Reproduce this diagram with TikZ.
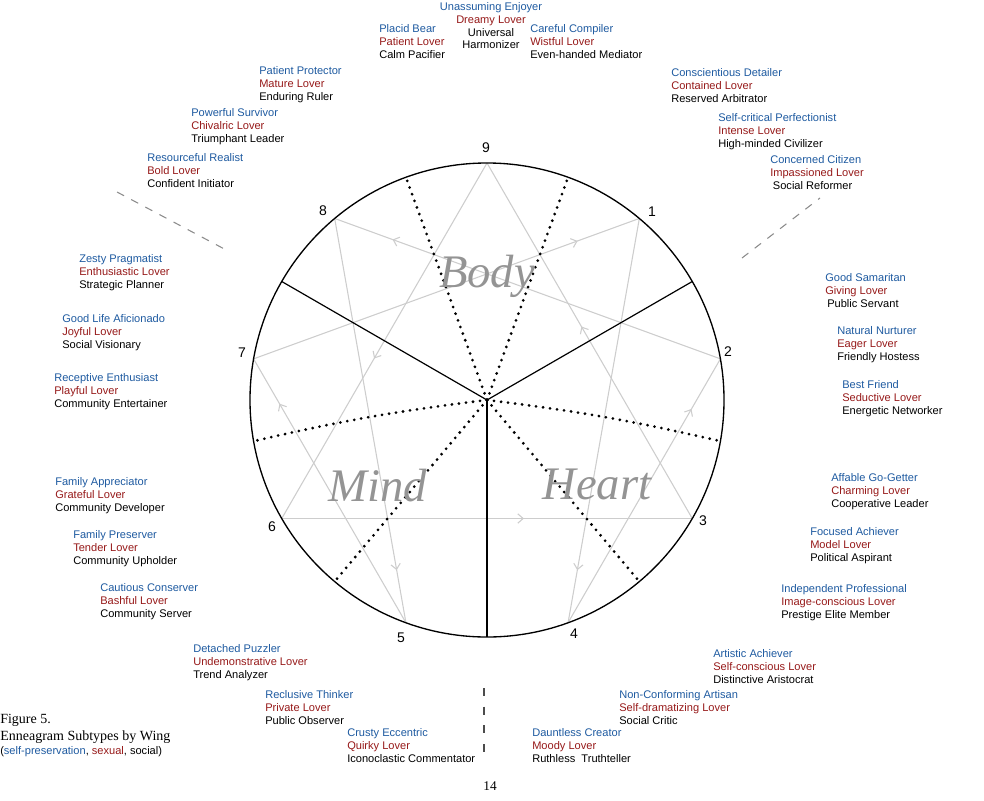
\documentclass[tikz,border=0pt]{standalone}
\usepackage{fontspec}
\setmainfont{Liberation Serif}
\setsansfont{Liberation Sans}
\usetikzlibrary{arrows.meta,decorations.markings,calc}
\definecolor{wblue}{RGB}{30,90,160}
\definecolor{wred}{RGB}{150,25,25}
\definecolor{lgray}{RGB}{205,205,205}
\tikzset{
  lbl/.style={inner sep=0pt,font=\sffamily\fontsize{8.3}{10}\selectfont,anchor=base west},
  num/.style={inner sep=0pt,font=\sffamily\fontsize{10.5}{12}\selectfont},
  big/.style={inner sep=0pt,font=\itshape\fontsize{35}{40}\selectfont,text=black!42},
  star/.style={lgray,line width=0.8pt,postaction={decorate},decoration={markings,mark=at position #1 with {\arrow[lgray,line width=0.8pt]{Straight Barb[length=4pt,width=7pt]}}}},
  dots/.style={line width=2.3pt,line cap=round,dash pattern=on 0pt off 5.3pt},
  sector/.style={line width=0.9pt},
  gdash/.style={black!45,line width=0.8pt,dash pattern=on 6pt off 6pt}
}
\newcommand{\wing}[6]{%
  \node[lbl,text=wblue] (#1a) at (#2,#3+4) {#4};
  \node[lbl,text=wred] (#1b) at (#2,#3+17.3) {#5};
  \node[lbl,text=black] (#1c) at (#2,#3+30.6) {#6};}
\begin{document}
\begin{tikzpicture}[x=0.75pt,y=-0.75pt]
\useasboundingbox (0,0) rectangle (984,800);
\coordinate (c) at (487,400);
\foreach \n/\a in {9/90,1/50,2/10,3/-30,4/-70,5/-110,6/-150,7/170,8/130}
  \coordinate (p\n) at ($(c)+(-\a:237)$);
\foreach \n/\a in {b1/150,b2/30,b3/-90,d1/110,d2/70,d3/-50,d4/-130,d5/190,d6/-10}
  \coordinate (\n) at ($(c)+(-\a:237)$);
% enneagram lines
\draw[star=0.55] (p9) -- (p6);
\draw[star=0.59] (p6) -- (p3);
\draw[star=0.54] (p3) -- (p9);
\draw[star=0.87] (p1) -- (p4);
\draw[star=0.81] (p4) -- (p2);
\draw[star=0.85] (p2) -- (p8);
\draw[star=0.87] (p8) -- (p5);
\draw[star=0.83] (p5) -- (p7);
\draw[star=0.84] (p7) -- (p1);
% sectors
\draw[sector] (c) -- (b1);
\draw[sector] (c) -- (b2);
\draw[sector] (c) -- (b3);
\draw[dots] (c) -- (d1);
\draw[dots] (c) -- (d2);
\draw[dots] (c) -- (d3);
\draw[dots] (c) -- (d4);
\draw[dots] (c) to[bend right=3] (d5);
\draw[dots] (c) to[bend left=3] (d6);
\draw[line width=1pt] (c) circle[radius=237];
% center words
\node[big] (body) at (487,276) {Body};
\node[big] (mind) at (378,486) {Mind};
\node[big] (heart) at (597,484) {Heart};
% numbers
\node[num] (n9) at (486,148) {9};
\node[num] (n1) at (652,212) {1};
\node[num] (n2) at (728,352) {2};
\node[num] (n3) at (703,521) {3};
\node[num] (n4) at (574,634) {4};
\node[num] (n5) at (401,638) {5};
\node[num] (n6) at (272,527) {6};
\node[num] (n7) at (242,353) {7};
\node[num] (n8) at (323,211) {8};
% dashed separators
\coordinate (g1) at (117,192); \coordinate (g2) at (230,252);
\coordinate (g3) at (742,258); \coordinate (g4) at (820,198);
\coordinate (g5) at (484,688); \coordinate (g6) at (484,762);
\draw[gdash] (g1) -- (g2);
\draw[gdash] (g3) -- (g4);
\draw[black!70,line width=1pt,dash pattern=on 6pt off 8pt] (g5) -- (g6);
% top block
\node[lbl,anchor=base,text=wblue] (t1) at (491,10) {Unassuming Enjoyer};
\node[lbl,anchor=base,text=wred] (t2) at (491,23) {Dreamy Lover};
\node[lbl,anchor=base] (t3) at (491,36) {Universal};
\node[lbl,anchor=base] (t4) at (491,48.5) {Harmonizer};
% wing labels
\wing{w1}{379}{28}{Placid Bear}{Patient Lover}{Calm Pacifier}
\wing{w2}{530}{28}{Careful Compiler}{Wistful Lover}{Even-handed Mediator}
\wing{w3}{259}{70}{Patient Protector}{Mature Lover}{Enduring Ruler}
\wing{w4}{671}{72}{Conscientious Detailer}{Contained Lover}{Reserved Arbitrator}
\wing{w5}{191}{112}{Powerful Survivor}{Chivalric Lover}{Triumphant Leader}
\wing{w6}{718}{117}{Self-critical Perfectionist}{Intense Lover}{High-minded Civilizer}
\wing{w7}{147}{157}{Resourceful Realist}{Bold Lover}{Confident Initiator}
\wing{w8}{770}{159}{Concerned Citizen}{Impassioned Lover}{\hspace*{2pt}Social Reformer}
\wing{w9}{79}{258}{Zesty Pragmatist}{Enthusiastic Lover}{Strategic Planner}
\wing{w10}{825}{277}{Good Samaritan}{Giving Lover}{\hspace*{1.5pt}Public Servant}
\wing{w11}{62}{318}{Good Life Aficionado}{Joyful Lover}{Social Visionary}
\wing{w12}{837}{330}{Natural Nurturer}{Eager Lover}{Friendly Hostess}
\wing{w13}{54}{377}{Receptive Enthusiast}{Playful Lover}{Community Entertainer}
\wing{w14}{842}{384}{Best Friend}{Seductive Lover}{Energetic Networker}
\wing{w15}{831}{477}{Affable Go-Getter}{Charming Lover}{Cooperative Leader}
\wing{w16}{55}{481}{Family Appreciator}{Grateful Lover}{Community Developer}
\wing{w17}{810}{531}{Focused Achiever}{Model Lover}{Political Aspirant}
\wing{w18}{73}{534}{Family Preserver}{Tender Lover}{Community Upholder}
\wing{w19}{781}{588}{Independent Professional}{Image-conscious Lover}{Prestige Elite Member}
\wing{w20}{100}{587}{Cautious Conserver}{Bashful Lover}{Community Server}
\wing{w21}{193}{648}{Detached Puzzler}{Undemonstrative Lover}{Trend Analyzer}
\wing{w22}{713}{653}{Artistic Achiever}{Self-conscious Lover}{Distinctive Aristocrat}
\wing{w23}{265}{694}{Reclusive Thinker}{Private Lover}{Public Observer}
\wing{w24}{619}{694}{Non-Conforming Artisan}{Self-dramatizing Lover}{Social Critic}
\wing{w25}{347}{732}{Crusty Eccentric}{Quirky Lover}{Iconoclastic Commentator}
\wing{w26}{532}{732}{Dauntless Creator}{Moody Lover}{Ruthless\ \ Truthteller}
% caption
\node[inner sep=0pt,anchor=base west,font=\fontsize{10.5}{12}\selectfont] (cap1) at (0,723) {Figure 5.};
\node[inner sep=0pt,anchor=base west,font=\fontsize{10.5}{12}\selectfont] (cap2) at (0,740) {Enneagram Subtypes by Wing};
\node[lbl] (cap3) at (0,754) {(\textcolor{wblue}{self-preservation}, \textcolor{wred}{sexual}, social)};
\node[inner sep=0pt,anchor=base,font=\fontsize{10}{12}\selectfont] (page) at (490,790) {14};
\end{tikzpicture}
\end{document}
